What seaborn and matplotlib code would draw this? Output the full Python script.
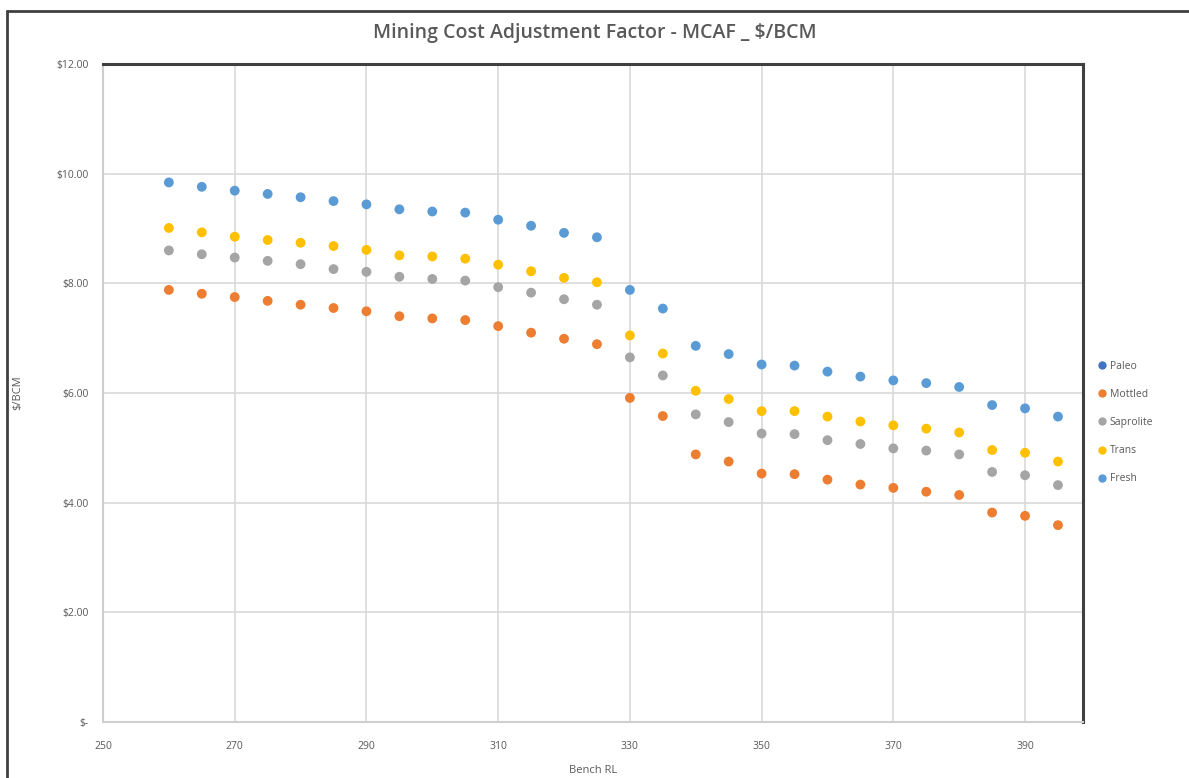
import seaborn as sns
import pandas as pd
import matplotlib.pyplot as plt
from matplotlib.lines import Line2D

# bench levels (x)
bench = [260, 265, 270, 275, 280, 285, 290, 295, 300, 305, 310, 315, 320, 325,
         330, 335, 340, 345, 350, 355, 360, 365, 370, 375, 380, 385, 390, 395]

# $/BCM per material type
fresh = [9.84, 9.76, 9.69, 9.63, 9.57, 9.50, 9.44, 9.35, 9.31, 9.29, 9.16, 9.05, 8.92, 8.84,
         7.88, 7.54, 6.86, 6.71, 6.52, 6.50, 6.39, 6.30, 6.23, 6.18, 6.11, 5.78, 5.72, 5.57]
trans = [9.01, 8.93, 8.85, 8.79, 8.74, 8.68, 8.61, 8.51, 8.49, 8.45, 8.34, 8.22, 8.10, 8.02,
         7.05, 6.72, 6.04, 5.89, 5.67, 5.67, 5.57, 5.48, 5.41, 5.35, 5.28, 4.96, 4.91, 4.75]
saprolite = [8.60, 8.53, 8.47, 8.41, 8.35, 8.26, 8.21, 8.12, 8.08, 8.05, 7.93, 7.83, 7.71, 7.61,
             6.65, 6.32, 5.61, 5.47, 5.26, 5.25, 5.14, 5.07, 4.99, 4.95, 4.88, 4.56, 4.50, 4.32]
mottled = [7.88, 7.81, 7.75, 7.68, 7.61, 7.55, 7.49, 7.40, 7.36, 7.33, 7.22, 7.10, 6.99, 6.89,
           5.91, 5.58, 4.88, 4.75, 4.53, 4.52, 4.42, 4.33, 4.27, 4.20, 4.14, 3.82, 3.76, 3.59]
# Paleo is in the legend but has no visible points
paleo = [None] * len(bench)

series_names = ["Paleo", "Mottled", "Saprolite", "Trans", "Fresh"]
series_colors = ["#4472C4", "#ED7D31", "#A5A5A5", "#FFC000", "#5B9BD5"]

xticks = [250, 270, 290, 310, 330, 350, 370, 390]
yticks = [0, 2, 4, 6, 8, 10, 12]

# build long table
frames = []
for name, vals in zip(series_names, [paleo, mottled, saprolite, trans, fresh]):
    frames.append(pd.DataFrame({"Bench RL": bench, "$/BCM": vals, "Type": name}))
df = pd.concat(frames, ignore_index=True)
df["$/BCM"] = df["$/BCM"].astype(float)

sns.set_style("white")
plt.rcParams["font.family"] = ["Open Sans", "DejaVu Sans"]

fig = plt.figure(figsize=(11.89, 7.78), dpi=100)
ax = fig.add_axes([103 / 1189, 1 - 722 / 778, 980 / 1189, 658 / 778])

sns.scatterplot(data=df.dropna(), x="Bench RL", y="$/BCM", hue="Type",
                hue_order=series_names, palette=series_colors,
                s=50, edgecolor="none", ax=ax, legend=False, zorder=3)

ax.set_xlim(250, 398.8)
ax.set_ylim(0, 12)
ax.set_xticks(xticks)
ax.set_yticks(yticks)
ax.set_yticklabels(["$-" if v == 0 else f"${v:.2f}" for v in yticks])
ax.grid(True, color="#d9d9d9", linewidth=1.2)
ax.set_axisbelow(True)
ax.tick_params(length=0, labelsize=7.5, labelcolor="#595959")
ax.tick_params(axis="x", pad=14)
ax.tick_params(axis="y", pad=10)

for side in ["top", "right"]:
    ax.spines[side].set_color("#404040")
    ax.spines[side].set_linewidth(2.2)
for side in ["left", "bottom"]:
    ax.spines[side].set_color("#cfcfcf")
    ax.spines[side].set_linewidth(1.5)

ax.set_xlabel("Bench RL", fontsize=8, color="#595959", labelpad=9)
ax.set_ylabel("$/BCM", fontsize=8, color="#595959", labelpad=24)
fig.text(0.5, 1 - 33 / 778, "Mining Cost Adjustment Factor - MCAF _ $/BCM",
         ha="center", va="center", fontsize=14, fontweight="semibold", color="#595959")

# legend on the right
handles = [Line2D([], [], marker="o", linestyle="none", markersize=6,
                  markerfacecolor=c, markeredgecolor="none") for c in series_colors]
ax.legend(handles, series_names, loc="center left", bbox_to_anchor=(1.005, 0.455),
          frameon=False, fontsize=7.5, labelcolor="#595959", handletextpad=0.2,
          labelspacing=1.65, handlelength=1.0, borderaxespad=0.5)

# outer chart border (left and top visible)
fig.add_artist(Line2D([7 / 1189, 7 / 1189], [0, 1 - 11 / 778], transform=fig.transFigure,
                      color="#404040", linewidth=2))
fig.add_artist(Line2D([7 / 1189, 1], [1 - 11 / 778, 1 - 11 / 778], transform=fig.transFigure,
                      color="#404040", linewidth=2))

fig.savefig("out.png", dpi=100)
